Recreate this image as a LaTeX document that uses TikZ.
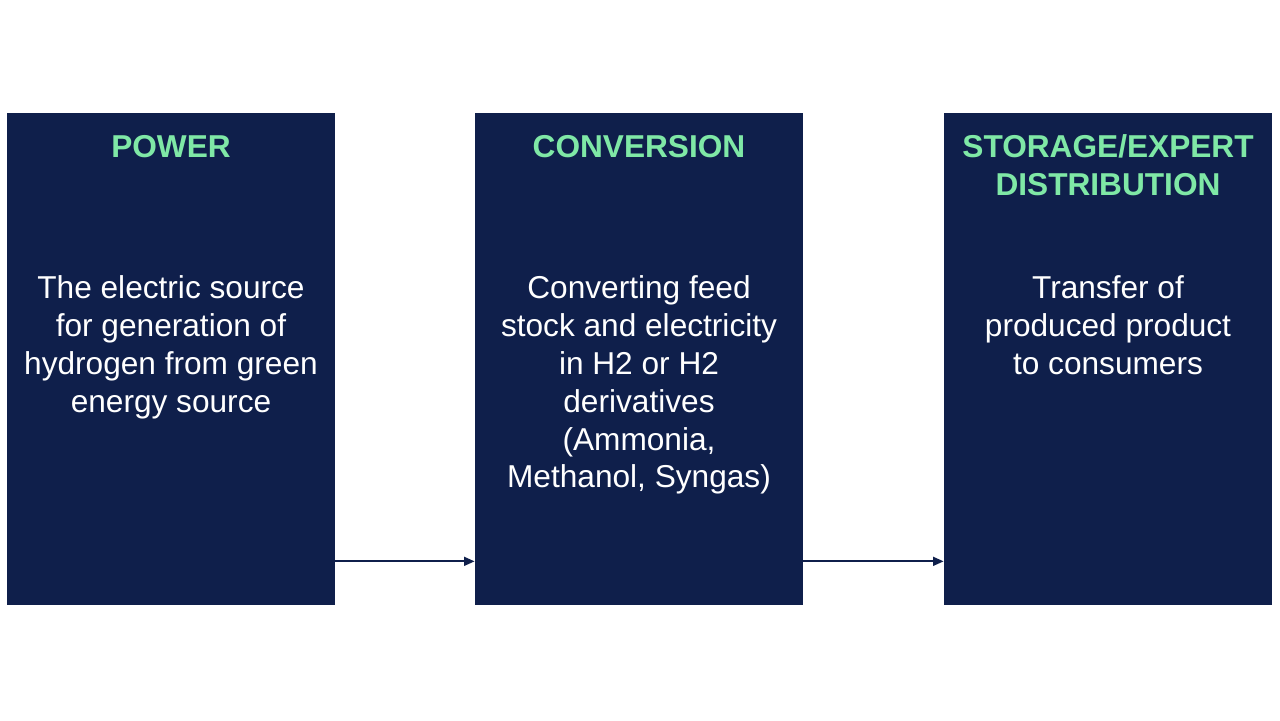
\documentclass[tikz,border=0pt]{standalone}
\usepackage{fontspec}
\setmainfont{Liberation Sans}
\definecolor{navybox}{HTML}{0F1F4B}
\definecolor{mintgreen}{HTML}{7FE8A6}
\usetikzlibrary{arrows.meta,positioning}

\begin{document}
\begin{tikzpicture}[>={Triangle[length=6pt,width=5pt]},
  stagebox/.style={fill=navybox, minimum width=6.56cm, minimum height=9.84cm, inner sep=0pt},
  stagetitle/.style={below, align=center, text=mintgreen, font=\fontsize{18}{21.5}\selectfont\bfseries, inner sep=0pt},
  stagetext/.style={below, align=center, text=white, font=\fontsize{18}{21.5}\selectfont, inner sep=0pt},
  flow/.style={draw=navybox, line width=1.1pt, ->}]
  % Canvas
  \useasboundingbox[fill=white] (0,0) rectangle (25.6,14.4);

  % Stage boxes
  \node[stagebox] (power) at (3.42,7.22) {};
  \node[stagebox] (conv) at (12.78,7.22) {};
  \node[stagebox] (store) at (22.16,7.22) {};

  % Titles
  \node[stagetitle] (powertitle) at ([yshift=-0.44cm]power.north) {POWER};
  \node[stagetitle] (convtitle) at ([yshift=-0.44cm]conv.north) {CONVERSION};
  \node[stagetitle] (storetitle) at ([yshift=-0.44cm]store.north) {STORAGE/EXPERT\\DISTRIBUTION};

  % Descriptions
  \node[stagetext] (powertext) at ([yshift=-3.26cm]power.north) {The electric source\\for generation of\\hydrogen from green\\energy source};
  \node[stagetext] (convtext) at ([yshift=-3.26cm]conv.north) {Converting feed\\stock and electricity\\in H2 or H2\\derivatives\\(Ammonia,\\Methanol, Syngas)};
  \node[stagetext] (storetext) at ([yshift=-3.26cm]store.north) {Transfer of\\produced product\\to consumers};

  % Arrows
  \draw[flow] ([yshift=0.88cm]power.south east) -- ([yshift=0.88cm]conv.south west);
  \draw[flow] ([yshift=0.88cm]conv.south east) -- ([yshift=0.88cm]store.south west);
\end{tikzpicture}
\end{document}
